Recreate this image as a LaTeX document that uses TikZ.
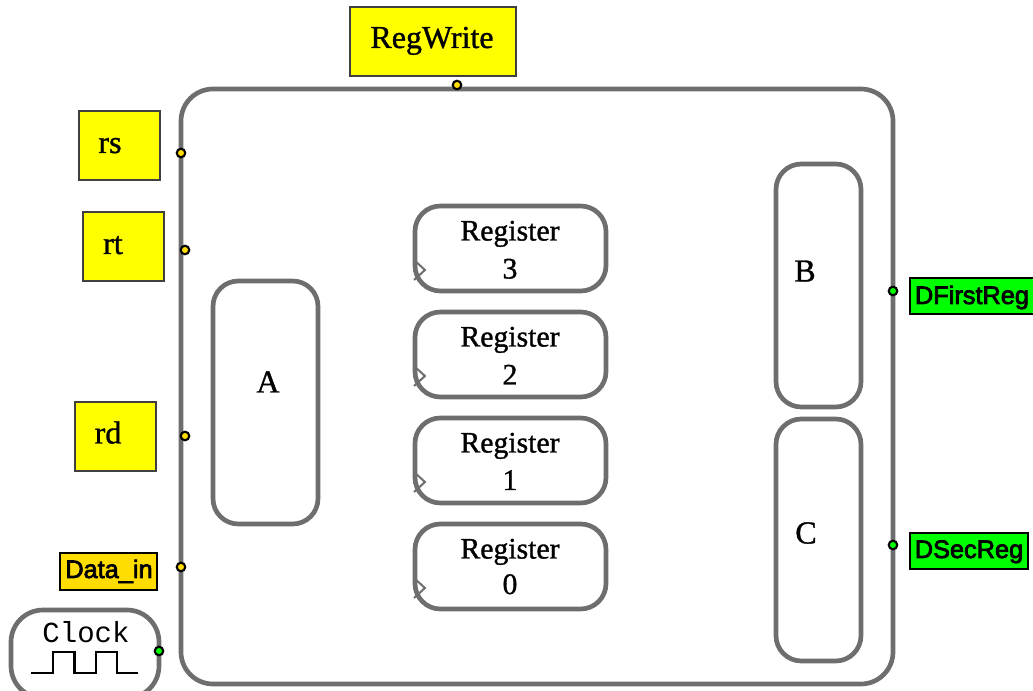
\documentclass[tikz,border=0pt]{standalone}
\usepackage{fontspec}
\setmainfont{Liberation Serif}
\newfontfamily\helv{Liberation Sans}
\newfontfamily\cour{Liberation Mono}
\newcommand{\heavy}[2]{\special{pdf:code 2 Tr #1 w}#2\special{pdf:code 0 Tr}}
\definecolor{edge}{HTML}{6E6E6E}
\definecolor{goldfill}{HTML}{FFDD00}
\definecolor{limefill}{HTML}{00FF00}
\definecolor{yellowfill}{HTML}{FFFF00}
\newcommand{\bx}[6]{\node[#2,minimum width={(#5-#3)*0.75pt},minimum height={(#6-#4)*0.75pt}] (#1) at ({(#3+#5)/2},{(#4+#6)/2}) {};}
\newcommand{\lbl}[5]{\node[#2,anchor=base] (#1) at (#3,#4) {#5};}
\tikzset{
  x=0.75pt,y=-0.75pt,
  base box/.style={shape=rectangle,inner sep=0pt,outer sep=0pt},
  module/.style={base box,draw=edge,fill=white,line width=3.5pt,rounded corners=24pt},
  inner module/.style={base box,draw=edge,fill=white,line width=3.5pt,rounded corners=19pt},
  input box/.style={base box,draw=black!75,fill=yellowfill,line width=1.5pt},
  gold box/.style={base box,draw=black,fill=goldfill,line width=1.8pt},
  output box/.style={base box,draw=black,fill=limefill,line width=1.8pt},
  pin/.style={shape=circle,draw=black,line width=1.6pt,inner sep=0pt,outer sep=0pt,minimum size=6.4pt},
  in pin/.style={pin,fill=goldfill},
  out pin/.style={pin,fill=limefill},
  big/.style={font=\fontsize{24}{24}\selectfont,inner sep=0pt},
  regtxt/.style={font=\fontsize{22.3}{24}\selectfont,inner sep=0pt},
  sans/.style={font=\helv\fontsize{19}{20}\selectfont,inner sep=0pt},
  mono/.style={font=\cour\fontsize{21.8}{22}\selectfont,inner sep=0pt},
  tick/.style={draw=edge,line width=1.5pt,line join=miter},
  wave/.style={draw=black,line width=1.8pt}
}
\begin{document}
\begin{tikzpicture}
\useasboundingbox (0,0) rectangle (1033,691);
\clip (0,0) rectangle (1033,691);
\fill[white] (0,0) rectangle (1033,691);
% main
\bx{main}{module}{181}{89}{893}{684}
\bx{A}{inner module}{213}{281}{318}{524}
\bx{B}{inner module}{776}{164}{861}{407}
\bx{C}{inner module}{776}{419}{861}{661}
\bx{regthree}{inner module}{415}{206}{606}{291}
\bx{regtwo}{inner module}{415}{312}{606}{397}
\bx{regone}{inner module}{415}{418}{606}{503}
\bx{regzero}{inner module}{415}{524}{606}{609}
% clock marks
\foreach \t in {260,366,472,578}{
  \draw[tick] (414,\t) -- (425,\t+10) -- (414,\t+20);
}
% inputs
\bx{RegWriteBox}{input box}{350}{7}{516}{76}
\bx{rsBox}{input box}{79}{111}{160}{180}
\bx{rtBox}{input box}{83}{212}{164}{281}
\bx{rdBox}{input box}{74.5}{402}{156}{471}
\bx{dataBox}{gold box}{60}{553}{157}{590}
\bx{firstBox}{output box}{910}{278}{1040}{314}
\bx{secBox}{output box}{910}{533}{1028}{569}
\bx{clockBox}{module}{11}{610}{159}{698}
% pins
\node[in pin] (p1) at (457,85) {};
\node[in pin] (p2) at (181,153) {};
\node[in pin] (p3) at (185,250) {};
\node[in pin] (p4) at (185,436) {};
\node[in pin] (p5) at (181,567) {};
\node[out pin] (p6) at (159,651) {};
\node[out pin] (p7) at (893,291) {};
\node[out pin] (p8) at (893,545) {};
% labels
\lbl{tRegWrite}{big}{432}{48}{\heavy{0.25}{RegWrite}}
\lbl{trs}{big}{110}{153}{\heavy{0.25}{rs}}
\lbl{trt}{big}{113}{254}{\heavy{0.25}{rt}}
\lbl{trd}{big}{108}{443.5}{\heavy{0.25}{rd}}
\lbl{tA}{big}{268}{392.5}{\heavy{0.25}{A}}
\lbl{tB}{big}{805}{281.5}{\heavy{0.25}{B}}
\lbl{tC}{big}{806}{543.5}{\heavy{0.25}{C}}
\foreach \n/\d/\b/\q in {a/3/240.5/278.5,b/2/346.5/384.5,c/1/452.5/490,e/0/558.5/594}{
  \node[regtxt,anchor=base] (tr\n) at (510,\b) {\heavy{0.25}{Register}};
  \node[regtxt,anchor=base] (td\n) at (510,\q) {\heavy{0.25}{\d}};
}
\lbl{tdata}{sans}{109}{578}{\heavy{0.55}{Data\_in}}
\lbl{tfirst}{sans}{972}{304}{\heavy{0.55}{DFirstReg}}
\lbl{tsec}{sans}{969}{558}{\heavy{0.55}{DSecReg}}
\lbl{tclock}{mono}{86}{643}{Clock}
\draw[wave] (31,673) -- (53,673) -- (53,652) -- (74.5,652) -- (74.5,673) -- (96,673) -- (96,652) -- (117,652) -- (117,673) -- (138,673);
\end{tikzpicture}
\end{document}
